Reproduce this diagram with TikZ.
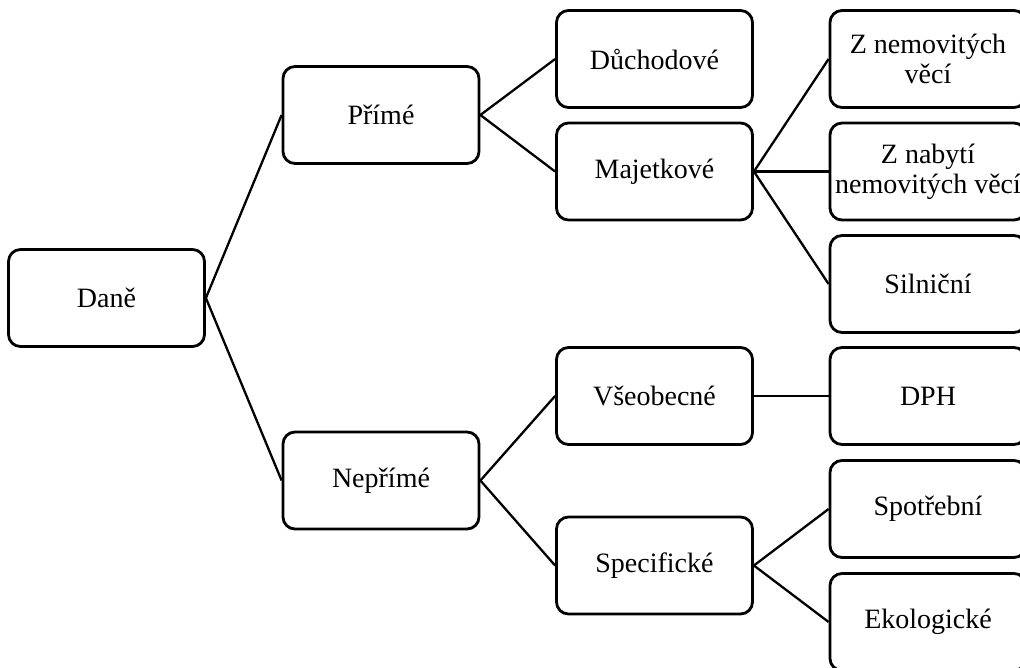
\documentclass[tikz,border=0pt]{standalone}
\usepackage{fontspec}
\setmainfont{Liberation Serif}
\begin{document}
\begin{tikzpicture}[x=1pt,y=-1pt,
  box/.style={draw=black, line width=2.8pt, rounded corners=12pt, fill=white,
    minimum width=196pt, minimum height=97pt, inner sep=2pt, align=center,
    font=\fontsize{28}{30}\selectfont},
  link/.style={line width=2.3pt}]
\useasboundingbox (0,0) rectangle (1020,667);
\clip (0,0) rectangle (1020,667);
\node[box] (dane) at (106.5,298) {Daně};
\node[box] (prime) at (381,115) {Přímé};
\node[box] (neprime) at (381,480.5) {Nepřímé};
\node[box] (duch) at (654.5,59) {Důchodové};
\node[box] (maj) at (654.5,171.5) {Majetkové};
\node[box] (vseob) at (654.5,396) {Všeobecné};
\node[box] (spec) at (654.5,565.5) {Specifické};
\node[box] (znem) at (928,59) {Z nemovitých\\věcí};
\node[box] (znab) at (928,171.5) {Z nabytí\\nemovitých věcí};
\node[box] (siln) at (928,284) {Silniční};
\node[box] (dph) at (928,396) {DPH};
\node[box] (spot) at (928,509) {Spotřební};
\node[box] (eko) at (928,622) {Ekologické};
\draw[link] (dane.east) -- (prime.west);
\draw[link] (dane.east) -- (neprime.west);
\draw[link] (prime.east) -- (duch.west);
\draw[link] (prime.east) -- (maj.west);
\draw[link] (maj.east) -- (znem.west);
\draw[link] (maj.east) -- (znab.west);
\draw[link] (maj.east) -- (siln.west);
\draw[link] (neprime.east) -- (vseob.west);
\draw[link] (neprime.east) -- (spec.west);
\draw[link] (vseob.east) -- (dph.west);
\draw[link] (spec.east) -- (spot.west);
\draw[link] (spec.east) -- (eko.west);
\end{tikzpicture}
\end{document}
